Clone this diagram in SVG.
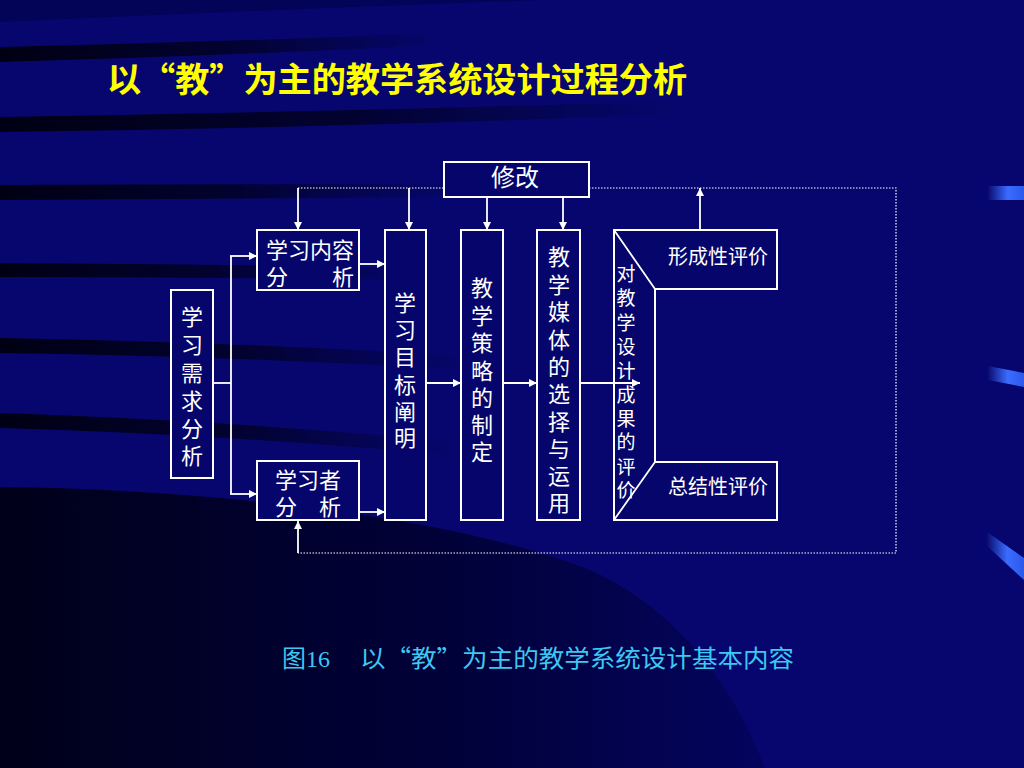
<svg xmlns="http://www.w3.org/2000/svg" width="1024" height="768" viewBox="0 0 1024 768">
<defs>
<style>
.box{fill:#05056b;stroke:#ffffff;stroke-width:2}
.t{font-family:"Noto Sans CJK SC","Noto Sans CJK JP",sans-serif;fill:#ffffff}
.t22{font-size:22px}
.t20{font-size:20px}
.t19{font-size:19px}
.mid{text-anchor:middle}
.ln{stroke:#ffffff;stroke-width:1.8;fill:none}
.dot{stroke:#ffffff;stroke-width:1.2;stroke-dasharray:1.5 1.5;fill:none}
.band{fill:url(#bandFade)}
</style>
<marker id="ah" viewBox="0 0 10 10" refX="10" refY="5" markerWidth="9" markerHeight="8" markerUnits="userSpaceOnUse" orient="auto">
<path d="M0,0 L10,5 L0,10 Z" fill="#ffffff"/>
</marker>
<linearGradient id="bandFade" x1="0" y1="0" x2="1" y2="0">
<stop offset="0" stop-color="#000014" stop-opacity="1"/>
<stop offset="0.5" stop-color="#000014" stop-opacity="0.7"/>
<stop offset="1" stop-color="#000014" stop-opacity="0"/>
</linearGradient>
<linearGradient id="lowDark" x1="0" y1="0" x2="1" y2="0">
<stop offset="0" stop-color="#00001a"/>
<stop offset="0.6" stop-color="#01013a"/>
<stop offset="1" stop-color="#04045e"/>
</linearGradient>
<linearGradient id="tab" x1="0" y1="0" x2="1" y2="0">
<stop offset="0" stop-color="#0a0a70"/>
<stop offset="0.55" stop-color="#3a6cff"/>
<stop offset="1" stop-color="#2c58ec"/>
</linearGradient>
</defs>

<!-- background -->
<rect x="0" y="0" width="1024" height="768" fill="#06066e"/>
<path d="M0,0 H540 Q260,10 0,22 Z" fill="#030358"/>
<path class="band" d="M0,47 Q220,42 440,33 L440,45 Q220,56 0,62 Z"/>
<path class="band" d="M0,117 Q330,112 680,101 L680,114 Q330,128 0,132 Z"/>
<path class="band" d="M0,185 Q230,184 460,184 L460,197 Q230,199 0,200 Z"/>
<path class="band" d="M0,263 Q200,264 420,268 L420,280 Q200,277 0,277 Z"/>
<path class="band" d="M0,338 Q230,342 470,356 L470,370 Q230,356 0,353 Z"/>
<path class="band" d="M0,413 Q220,420 460,442 L460,456 Q220,434 0,428 Z"/>
<path d="M0,487 C200,489 450,515 590,570 C680,610 735,690 765,768 H0 Z" fill="url(#lowDark)"/>
<rect x="988" y="186" width="36" height="14" fill="url(#tab)"/>
<polygon points="988,366 1024,373 1024,387 988,380" fill="url(#tab)"/>
<polygon points="987,532 1024,558 1024,580 987,546" fill="url(#tab)"/>

<!-- title -->
<text x="107" y="92" font-family="'Noto Sans CJK SC','Noto Sans CJK JP',sans-serif" font-size="34" font-weight="bold" fill="#ffff00" textLength="580" lengthAdjust="spacingAndGlyphs">以“教”为主的教学系统设计过程分析</text>

<!-- connectors -->
<g id="connectors">
<path class="dot" d="M298,188 H444"/>
<path class="dot" d="M589,188 H896 V553 H298"/>
<line class="ln" x1="298" y1="188" x2="298" y2="230" marker-end="url(#ah)"/>
<line class="ln" x1="409" y1="188" x2="409" y2="230" marker-end="url(#ah)"/>
<line class="ln" x1="487" y1="197" x2="487" y2="230" marker-end="url(#ah)"/>
<line class="ln" x1="563" y1="197" x2="563" y2="230" marker-end="url(#ah)"/>
<line class="ln" x1="298" y1="553" x2="298" y2="521" marker-end="url(#ah)"/>
<line class="ln" x1="700" y1="230" x2="700" y2="188" marker-end="url(#ah)"/>
<path class="ln" d="M213,383 H231"/>
<path class="ln" d="M231,256 V494"/>
<line class="ln" x1="230" y1="256" x2="257" y2="256" marker-end="url(#ah)"/>
<line class="ln" x1="230" y1="494" x2="257" y2="494" marker-end="url(#ah)"/>
<line class="ln" x1="359" y1="264" x2="385" y2="264" marker-end="url(#ah)"/>
<line class="ln" x1="359" y1="512" x2="385" y2="512" marker-end="url(#ah)"/>
<line class="ln" x1="426" y1="383" x2="461" y2="383" marker-end="url(#ah)"/>
<line class="ln" x1="504" y1="383" x2="537" y2="383" marker-end="url(#ah)"/>
</g>

<!-- nodes -->
<g id="xiugai">
<rect class="box" x="444" y="162" width="145" height="35"/>
<text class="t mid" x="515" y="186" font-size="24">修改</text>
</g>

<g id="xuqiu">
<rect class="box" x="171" y="290" width="42" height="188"/>
<text class="t t22 mid"><tspan x="192" y="325">学</tspan><tspan x="192" y="353">习</tspan><tspan x="192" y="381">需</tspan><tspan x="192" y="409">求</tspan><tspan x="192" y="437">分</tspan><tspan x="192" y="464">析</tspan></text>
</g>

<g id="neirong">
<rect class="box" x="257" y="230" width="102" height="60"/>
<text class="t t22" x="266" y="258">学习内容</text>
<text class="t t22" x="266" y="285">分　　析</text>
</g>

<g id="xuexizhe">
<rect class="box" x="257" y="461" width="102" height="59"/>
<text class="t t22" x="275" y="488">学习者</text>
<text class="t t22" x="275" y="515">分　析</text>
</g>

<g id="mubiao">
<rect class="box" x="385" y="230" width="41" height="290"/>
<text class="t t22 mid"><tspan x="405" y="311">学</tspan><tspan x="405" y="338">习</tspan><tspan x="405" y="365">目</tspan><tspan x="405" y="393">标</tspan><tspan x="405" y="420">阐</tspan><tspan x="405" y="446">明</tspan></text>
</g>

<g id="celue">
<rect class="box" x="461" y="230" width="42" height="290"/>
<text class="t t22 mid"><tspan x="482" y="296">教</tspan><tspan x="482" y="324">学</tspan><tspan x="482" y="351">策</tspan><tspan x="482" y="379">略</tspan><tspan x="482" y="406">的</tspan><tspan x="482" y="433">制</tspan><tspan x="482" y="460">定</tspan></text>
</g>

<g id="meiti">
<rect class="box" x="537" y="230" width="43" height="290"/>
<text class="t t22 mid"><tspan x="559" y="265">教</tspan><tspan x="559" y="293">学</tspan><tspan x="559" y="320">媒</tspan><tspan x="559" y="348">体</tspan><tspan x="559" y="375">的</tspan><tspan x="559" y="402">选</tspan><tspan x="559" y="430">择</tspan><tspan x="559" y="457">与</tspan><tspan x="559" y="484">运</tspan><tspan x="559" y="511">用</tspan></text>
</g>

<g id="pingjia">
<path class="box" d="M614,230 H777 V289 H655 V462 H777 V520 H614 Z"/>
<path class="ln" d="M614,230 L655,289 M655,462 L614,520" stroke-width="1.5"/>
<text class="t t19 mid"><tspan x="626" y="281">对</tspan><tspan x="626" y="305">教</tspan><tspan x="626" y="330">学</tspan><tspan x="626" y="354">设</tspan><tspan x="626" y="378">计</tspan><tspan x="626" y="402">成</tspan><tspan x="626" y="426">果</tspan><tspan x="626" y="449">的</tspan><tspan x="626" y="474">评</tspan><tspan x="626" y="497">价</tspan></text>
<text class="t t20" x="668" y="264">形成性评价</text>
<text class="t t20" x="668" y="494">总结性评价</text>
</g>
<line class="ln" x1="581" y1="383" x2="640" y2="383" marker-end="url(#ah)"/>

<!-- caption -->
<text font-family="'Liberation Serif','Noto Sans CJK SC',serif" font-size="24" fill="#3cc8f0"><tspan x="282" y="667">图16　</tspan><tspan x="360" y="667" font-family="'Noto Sans CJK SC','Noto Sans CJK JP',sans-serif" textLength="434" lengthAdjust="spacingAndGlyphs">以“教”为主的教学系统设计基本内容</tspan></text>
</svg>
